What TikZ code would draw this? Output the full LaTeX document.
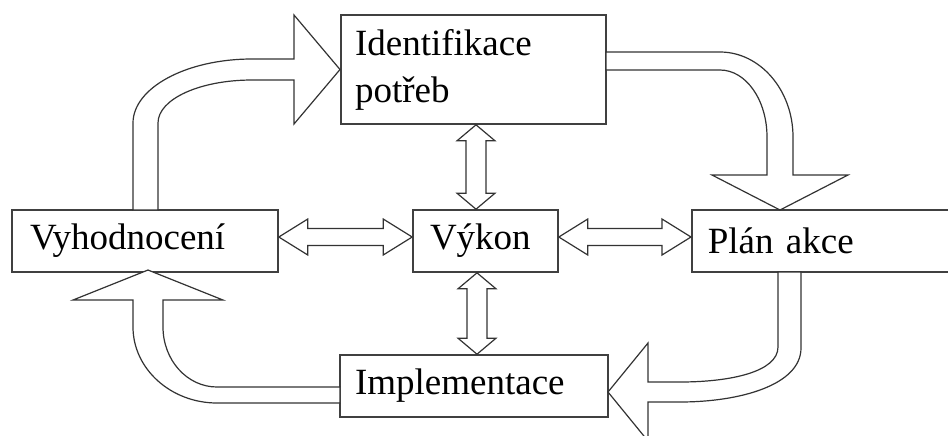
\documentclass[tikz,border=0pt]{standalone}
\usepackage{fontspec}
\setmainfont{Liberation Serif}
\usetikzlibrary{calc}

\tikzset{
  box/.style={draw=black!75, line width=0.8pt, fill=white, minimum height=31pt,
    inner ysep=0pt, align=left, font=\fontsize{18.5}{23.5}\selectfont},
  blk/.style={draw=black!80, line width=0.6pt, fill=white, line join=miter},
}

% block double arrows between two tips
\newcommand{\hdouble}[2]{%
  \draw[blk] (#1) -- ($(#1)+(29,-18)$) -- ($(#1)+(29,-8.5)$) -- ($(#2)+(-29,-8.5)$)
    -- ($(#2)+(-29,-18)$) -- (#2) -- ($(#2)+(-29,18)$) -- ($(#2)+(-29,8.5)$)
    -- ($(#1)+(29,8.5)$) -- ($(#1)+(29,18)$) -- cycle;}
\newcommand{\vdouble}[2]{%
  \draw[blk] (#1) -- ($(#1)+(-19,16)$) -- ($(#1)+(-10,16)$) -- ($(#2)+(-10,-16)$)
    -- ($(#2)+(-19,-16)$) -- (#2) -- ($(#2)+(19,-16)$) -- ($(#2)+(10,-16)$)
    -- ($(#1)+(10,16)$) -- ($(#1)+(19,16)$) -- cycle;}

\begin{document}
\begin{tikzpicture}[x=0.5pt,y=-0.5pt]
  \useasboundingbox (0,0) rectangle (948,435);
  \clip (0,0) rectangle (948,435);

  % boxes
  \node[box, minimum width=132.5pt, minimum height=54.5pt, inner xsep=7pt, text width=118.5pt] (ident) at (473.5,69.5) {Identifikace\\potřeb};
  \node[box, minimum width=133pt, inner xsep=9pt, text width=115pt] (vyhod) at (145,241) {Vyhodnocení};
  \node[box, minimum width=72.5pt, inner xsep=8.5pt, text width=55.5pt] (vykon) at (485.5,241) {Výkon};
  \node[box, anchor=west, inner xsep=8pt, text width=144pt] (plan) at (691,241) {Plán akce};
  \node[box, minimum width=134pt, inner xsep=7.5pt, text width=119pt] (impl) at (474,386) {Implementace};

  % curved block arrows round the cycle
  \draw[blk] (133,210) -- (133,123) .. controls (133,88) and (186,59) .. (252,59)
    -- (294,59) -- (294,15) -- (340,69.5) -- (294,124) -- (294,80) -- (252,80)
    .. controls (200,80) and (158,99) .. (158,123) -- (158,210) -- cycle;
  \draw[blk] (606,52) -- (720,52) .. controls (760,52) and (793,90) .. (793,137)
    -- (793,175) -- (848,175) -- (780,210) -- (712,175) -- (767,175) -- (767,137)
    .. controls (767,100) and (746,70) .. (720,70) -- (606,70) -- cycle;
  \draw[blk] (778,272) -- (778,347) .. controls (778,372) and (730,382) .. (680,382)
    -- (648,382) -- (648,343) -- (608,392) -- (648,441) -- (648,402) -- (680,402)
    .. controls (740,402) and (801,385) .. (801,348) -- (801,272) -- cycle;
  \draw[blk] (340,387) -- (217,387) .. controls (187,387) and (163,360) .. (163,327)
    -- (163,300) -- (223,300) -- (148,270) -- (73,300) -- (133,300) -- (133,327)
    .. controls (133,369) and (171,403) .. (217,403) -- (340,403) -- cycle;

  % double arrows to the centre
  \coordinate (h1) at ($(vyhod.east)+(0,-4)$);
  \coordinate (h2) at ($(vykon.west)+(0,-4)$);
  \coordinate (h3) at ($(vykon.east)+(0,-4)$);
  \coordinate (h4) at ($(plan.west)+(0,-4)$);
  \coordinate (v1) at ($(ident.south)+(2.5,0)$);
  \coordinate (v2) at ($(vykon.north)+(-9.5,0)$);
  \coordinate (v3) at ($(vykon.south)+(-8.5,0)$);
  \coordinate (v4) at ($(impl.north)+(3,0)$);
  \hdouble{h1}{h2}
  \hdouble{h3}{h4}
  \vdouble{v1}{v2}
  \vdouble{v3}{v4}
\end{tikzpicture}
\end{document}
